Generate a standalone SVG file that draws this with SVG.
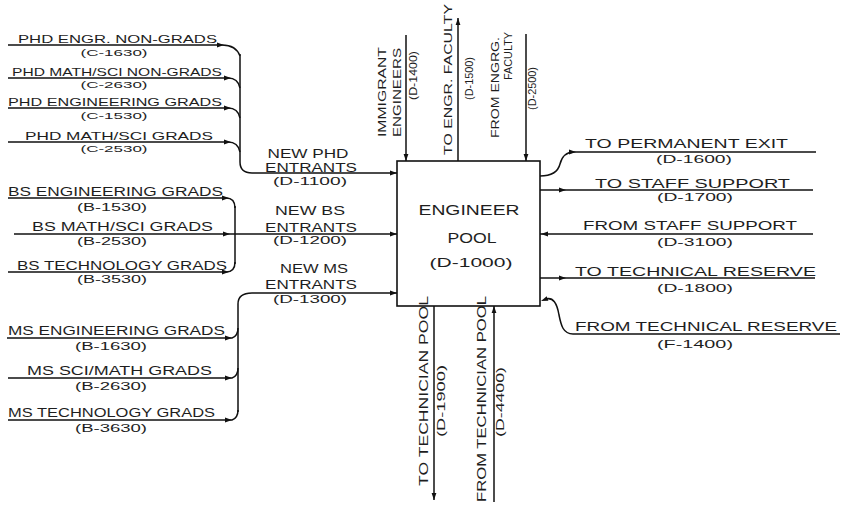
<svg xmlns="http://www.w3.org/2000/svg" xmlns:xlink="http://www.w3.org/1999/xlink" width="842" height="507" viewBox="0 0 842 507">
<style>
text{font-family:"Liberation Sans",Arial,sans-serif;fill:#1e1e1e}
.m11{font-size:11px}
.m12{font-size:12px}
.m13{font-size:13px}
.c9{font-size:9px;text-anchor:middle}
.c10{font-size:10px;text-anchor:middle}
.c11{font-size:11px;text-anchor:middle}
.mid{text-anchor:middle}
.ln{fill:none;stroke:#111;stroke-width:1.5}
</style>
<defs>
<path id="ah" d="M0,0 L-7,-2.4 L-7,2.4 Z" fill="#111"/>
</defs>
<rect width="842" height="507" fill="#fff"/>

<g id="connectors">
  <!-- PHD group -->
  <path class="ln" d="M8,45 H222 Q236,45 240,56"/>
  <path class="ln" d="M8,78 H228 Q238,78 240,88"/>
  <path class="ln" d="M8,108 H228 Q238,108 240,118"/>
  <path class="ln" d="M8,142 H228 Q238,142 240,152"/>
  <path class="ln" d="M240,54 V162 Q240,173 252,173 H397"/>
  <use xlink:href="#ah" transform="translate(224,45)"/>
  <use xlink:href="#ah" transform="translate(231,78)"/>
  <use xlink:href="#ah" transform="translate(231,108)"/>
  <use xlink:href="#ah" transform="translate(231,142)"/>
  <use xlink:href="#ah" transform="translate(397,173)"/>
  <!-- BS group -->
  <path class="ln" d="M8,198 H226 Q235,198 235,208"/>
  <path class="ln" d="M14,234 H397"/>
  <path class="ln" d="M8,272 H226 Q235,272 235,262"/>
  <path class="ln" d="M235,206 V264"/>
  <use xlink:href="#ah" transform="translate(229,198)"/>
  <use xlink:href="#ah" transform="translate(230,234)"/>
  <use xlink:href="#ah" transform="translate(229,272)"/>
  <use xlink:href="#ah" transform="translate(397,234)"/>
  <!-- MS group -->
  <path class="ln" d="M7,338 H232 Q238,336 238,328"/>
  <path class="ln" d="M8,378 H232 Q238,376 238,368"/>
  <path class="ln" d="M8,420 H232 Q238,418 238,410"/>
  <path class="ln" d="M238,412 V304 Q238,293 252,293 H397"/>
  <use xlink:href="#ah" transform="translate(232,338)"/>
  <use xlink:href="#ah" transform="translate(232,378)"/>
  <use xlink:href="#ah" transform="translate(232,420)"/>
  <use xlink:href="#ah" transform="translate(397,293)"/>
  <!-- top -->
  <path class="ln" d="M406,35 V161"/>
  <path class="ln" d="M458,161 V18"/>
  <path class="ln" d="M526,34 V161"/>
  <use xlink:href="#ah" transform="translate(406,161) rotate(90)"/>
  <use xlink:href="#ah" transform="translate(458,18) rotate(-90)"/>
  <use xlink:href="#ah" transform="translate(526,161) rotate(90)"/>
  <!-- bottom -->
  <path class="ln" d="M434,306 V500"/>
  <path class="ln" d="M494,502 V306"/>
  <use xlink:href="#ah" transform="translate(434,500) rotate(90)"/>
  <use xlink:href="#ah" transform="translate(494,306) rotate(-90)"/>
  <!-- right -->
  <path class="ln" d="M540,176 C552,176 558,172 560,164 C562,156 566,152 574,152 H816"/>
  <use xlink:href="#ah" transform="translate(576,152)"/>
  <path class="ln" d="M540,190 H813"/>
  <use xlink:href="#ah" transform="translate(566,190)"/>
  <path class="ln" d="M813,234 H540"/>
  <use xlink:href="#ah" transform="translate(541,234) rotate(180)"/>
  <path class="ln" d="M540,278 H815"/>
  <use xlink:href="#ah" transform="translate(566,278)"/>
  <path class="ln" d="M840,334 H573 C563,334 561,325 559,315 C557,303 553,297 546,299"/>
  <use xlink:href="#ah" transform="translate(541,301) rotate(160)"/>
</g>

<g id="engineer-pool">
  <rect x="397" y="161" width="143" height="145" fill="none" stroke="#111" stroke-width="1.6"/>
  <text class="mid" x="469" y="215" font-size="15" textLength="101" lengthAdjust="spacingAndGlyphs">ENGINEER</text>
  <text class="mid" x="472" y="243" font-size="15" textLength="49" lengthAdjust="spacingAndGlyphs">POOL</text>
  <text class="mid" x="471" y="267" font-size="12" textLength="83" lengthAdjust="spacingAndGlyphs">(D-1000)</text>
</g>

<g id="phd-engr-non-grads">
  <text class="m11" x="18" y="43" textLength="199" lengthAdjust="spacingAndGlyphs">PHD ENGR. NON-GRADS</text>
  <text class="c9" x="114" y="56" textLength="67" lengthAdjust="spacingAndGlyphs">(C-1630)</text>
</g>
<g id="phd-mathsci-non-grads">
  <text class="m11" x="12" y="76" textLength="210" lengthAdjust="spacingAndGlyphs">PHD MATH/SCI NON-GRADS</text>
  <text class="c9" x="114" y="88" textLength="67" lengthAdjust="spacingAndGlyphs">(C-2630)</text>
</g>
<g id="phd-engineering-grads">
  <text class="m11" x="8" y="106" textLength="214" lengthAdjust="spacingAndGlyphs">PHD ENGINEERING GRADS</text>
  <text class="c9" x="114" y="119" textLength="67" lengthAdjust="spacingAndGlyphs">(C-1530)</text>
</g>
<g id="phd-mathsci-grads">
  <text class="m11" x="25" y="140" textLength="188" lengthAdjust="spacingAndGlyphs">PHD MATH/SCI GRADS</text>
  <text class="c9" x="114" y="152" textLength="67" lengthAdjust="spacingAndGlyphs">(C-2530)</text>
</g>

<g id="new-phd-entrants">
  <text class="m12 mid" x="308" y="158" textLength="81" lengthAdjust="spacingAndGlyphs">NEW PHD</text>
  <text class="m12 mid" x="311" y="172" textLength="92" lengthAdjust="spacingAndGlyphs">ENTRANTS</text>
  <text class="c10" x="310" y="185" textLength="74" lengthAdjust="spacingAndGlyphs">(D-1100)</text>
</g>
<g id="new-bs-entrants">
  <text class="m12 mid" x="310" y="215" textLength="70" lengthAdjust="spacingAndGlyphs">NEW BS</text>
  <text class="m12 mid" x="311" y="232" textLength="92" lengthAdjust="spacingAndGlyphs">ENTRANTS</text>
  <text class="c10" x="310" y="244" textLength="74" lengthAdjust="spacingAndGlyphs">(D-1200)</text>
</g>
<g id="new-ms-entrants">
  <text class="m12 mid" x="314" y="273" textLength="68" lengthAdjust="spacingAndGlyphs">NEW MS</text>
  <text class="m12 mid" x="311" y="289" textLength="92" lengthAdjust="spacingAndGlyphs">ENTRANTS</text>
  <text class="c10" x="310" y="303" textLength="74" lengthAdjust="spacingAndGlyphs">(D-1300)</text>
</g>

<g id="bs-engineering-grads">
  <text class="m12" x="8" y="196" textLength="215" lengthAdjust="spacingAndGlyphs">BS ENGINEERING GRADS</text>
  <text class="c10" x="112" y="211" textLength="70" lengthAdjust="spacingAndGlyphs">(B-1530)</text>
</g>
<g id="bs-mathsci-grads">
  <text class="m12" x="32" y="231" textLength="181" lengthAdjust="spacingAndGlyphs">BS MATH/SCI GRADS</text>
  <text class="c10" x="112" y="245" textLength="70" lengthAdjust="spacingAndGlyphs">(B-2530)</text>
</g>
<g id="bs-technology-grads">
  <text class="m12" x="17" y="270" textLength="210" lengthAdjust="spacingAndGlyphs">BS TECHNOLOGY GRADS</text>
  <text class="c10" x="112" y="283" textLength="70" lengthAdjust="spacingAndGlyphs">(B-3530)</text>
</g>

<g id="ms-engineering-grads">
  <text class="m12" x="8" y="335" textLength="217" lengthAdjust="spacingAndGlyphs">MS ENGINEERING GRADS</text>
  <text class="c10" x="111" y="350" textLength="72" lengthAdjust="spacingAndGlyphs">(B-1630)</text>
</g>
<g id="ms-scimath-grads">
  <text class="m12" x="27" y="375" textLength="185" lengthAdjust="spacingAndGlyphs">MS SCI/MATH GRADS</text>
  <text class="c10" x="111" y="390" textLength="72" lengthAdjust="spacingAndGlyphs">(B-2630)</text>
</g>
<g id="ms-technology-grads">
  <text class="m12" x="8" y="417" textLength="207" lengthAdjust="spacingAndGlyphs">MS TECHNOLOGY GRADS</text>
  <text class="c10" x="111" y="432" textLength="72" lengthAdjust="spacingAndGlyphs">(B-3630)</text>
</g>

<g id="immigrant-engineers">
  <text class="m11" transform="translate(386,137) rotate(-90)" textLength="90" lengthAdjust="spacingAndGlyphs">IMMIGRANT</text>
  <text class="m11" transform="translate(401,137) rotate(-90)" textLength="89" lengthAdjust="spacingAndGlyphs">ENGINEERS</text>
  <text class="m11" transform="translate(417,100) rotate(-90)" textLength="49" lengthAdjust="spacingAndGlyphs">(D-1400)</text>
</g>
<g id="to-engr-faculty">
  <text class="m11" transform="translate(452,155) rotate(-90)" textLength="151" lengthAdjust="spacingAndGlyphs">TO ENGR. FACULTY</text>
  <text class="m11" transform="translate(473,100) rotate(-90)" textLength="43" lengthAdjust="spacingAndGlyphs">(D-1500)</text>
</g>
<g id="from-engrg-faculty">
  <text class="m11" transform="translate(499,138) rotate(-90)" textLength="101" lengthAdjust="spacingAndGlyphs">FROM ENGRG.</text>
  <text class="m11" transform="translate(512,80) rotate(-90)" textLength="48" lengthAdjust="spacingAndGlyphs">FACULTY</text>
  <text class="m11" transform="translate(536,110) rotate(-90)" textLength="43" lengthAdjust="spacingAndGlyphs">(D-2500)</text>
</g>

<g id="to-technician-pool">
  <text class="m12" transform="translate(428,486) rotate(-90)" textLength="190" lengthAdjust="spacingAndGlyphs">TO TECHNICIAN POOL</text>
  <text class="m11" transform="translate(445,437) rotate(-90)" textLength="72" lengthAdjust="spacingAndGlyphs">(D-1900)</text>
</g>
<g id="from-technician-pool">
  <text class="m12" transform="translate(486,502) rotate(-90)" textLength="206" lengthAdjust="spacingAndGlyphs">FROM TECHNICIAN POOL</text>
  <text class="m11" transform="translate(504,437) rotate(-90)" textLength="70" lengthAdjust="spacingAndGlyphs">(D-4400)</text>
</g>

<g id="to-permanent-exit">
  <text class="m13" x="585" y="148" textLength="203" lengthAdjust="spacingAndGlyphs">TO PERMANENT EXIT</text>
  <text class="c11" x="694" y="163" textLength="76" lengthAdjust="spacingAndGlyphs">(D-1600)</text>
</g>
<g id="to-staff-support">
  <text class="m13" x="595" y="188" textLength="195" lengthAdjust="spacingAndGlyphs">TO STAFF SUPPORT</text>
  <text class="c11" x="695" y="201" textLength="76" lengthAdjust="spacingAndGlyphs">(D-1700)</text>
</g>
<g id="from-staff-support">
  <text class="m13" x="583" y="230" textLength="214" lengthAdjust="spacingAndGlyphs">FROM STAFF SUPPORT</text>
  <text class="c11" x="695" y="246" textLength="76" lengthAdjust="spacingAndGlyphs">(D-3100)</text>
</g>
<g id="to-technical-reserve">
  <text class="m13" x="575" y="276" textLength="241" lengthAdjust="spacingAndGlyphs">TO TECHNICAL RESERVE</text>
  <text class="c11" x="695" y="292" textLength="76" lengthAdjust="spacingAndGlyphs">(D-1800)</text>
</g>
<g id="from-technical-reserve">
  <text class="m13" x="575" y="331" textLength="262" lengthAdjust="spacingAndGlyphs">FROM TECHNICAL RESERVE</text>
  <text class="c11" x="695" y="348" textLength="76" lengthAdjust="spacingAndGlyphs">(F-1400)</text>
</g>
</svg>
